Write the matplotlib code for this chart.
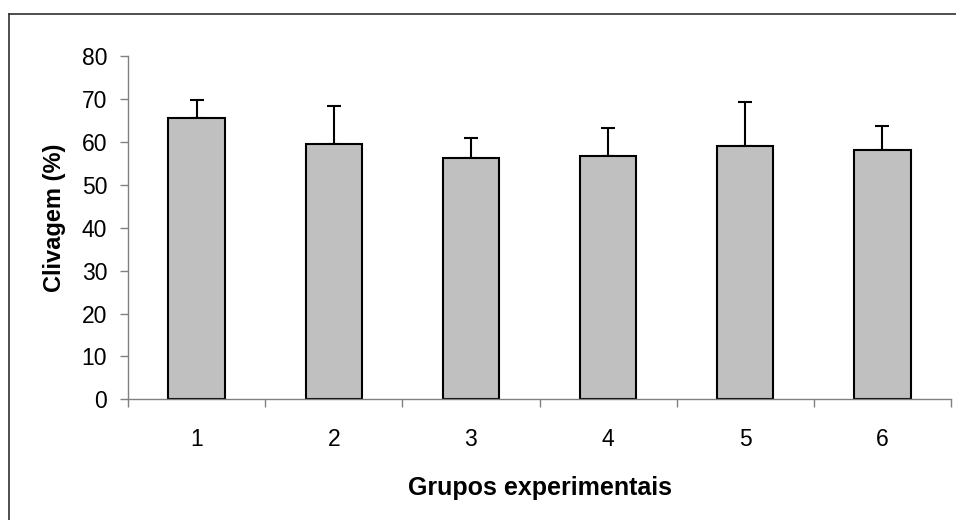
import matplotlib.pyplot as plt
import numpy as np
from matplotlib.lines import Line2D

plt.rcParams['font.family'] = ['Liberation Sans', 'DejaVu Sans']

grupos = ['1', '2', '3', '4', '5', '6']
clivagem = [65.6, 59.6, 56.3, 56.8, 59.1, 58.2]
erro = [4.2, 8.8, 4.6, 6.5, 10.2, 5.5]

fig = plt.figure(figsize=(9.56, 5.2), dpi=100)
ax = fig.add_axes([128 / 956, 1 - 399.3 / 520, 823 / 956, 343 / 520])

x = np.arange(len(grupos))
ax.bar(x, clivagem, width=0.41, color='#c0c0c0', edgecolor='black', linewidth=1.5, zorder=2)
ax.errorbar(x, clivagem, yerr=[np.zeros(len(erro)), erro], fmt='none', ecolor='black',
            elinewidth=1.5, capsize=5, capthick=1.5, zorder=1)

ax.set_xlim(-0.5, len(grupos) - 0.5)
ax.set_ylim(0, 80)
ax.set_yticks(range(0, 81, 10))
ax.set_xticks(x)
ax.set_xticklabels(grupos)
ax.set_xticks(np.arange(-0.5, len(grupos)), minor=True)
ax.tick_params(axis='x', which='major', length=0, pad=21, labelsize=16.5)
ax.tick_params(axis='x', which='minor', length=6, width=1, color='#808080', direction='out')
ax.tick_params(axis='y', length=6, width=1, color='#808080', labelsize=16.5, pad=9)

for s in ['top', 'right']:
    ax.spines[s].set_visible(False)
for s in ['left', 'bottom']:
    ax.spines[s].set_color('#808080')
    ax.spines[s].set_linewidth(1)

ax.set_ylabel('Clivagem (%)', fontsize=17, fontweight='bold')
ax.yaxis.set_label_coords(-0.075, 0.53)
ax.set_xlabel('Grupos experimentais', fontsize=18, fontweight='bold', labelpad=18)

# moldura externa (cortada à direita e em baixo)
fig.add_artist(Line2D([9 / 956, 1.01], [1 - 14 / 520, 1 - 14 / 520], transform=fig.transFigure,
                      color='#303030', linewidth=1.2))
fig.add_artist(Line2D([9 / 956, 9 / 956], [-0.01, 1 - 14 / 520], transform=fig.transFigure,
                      color='#303030', linewidth=1.2))

fig.savefig('out.png', dpi=100)
